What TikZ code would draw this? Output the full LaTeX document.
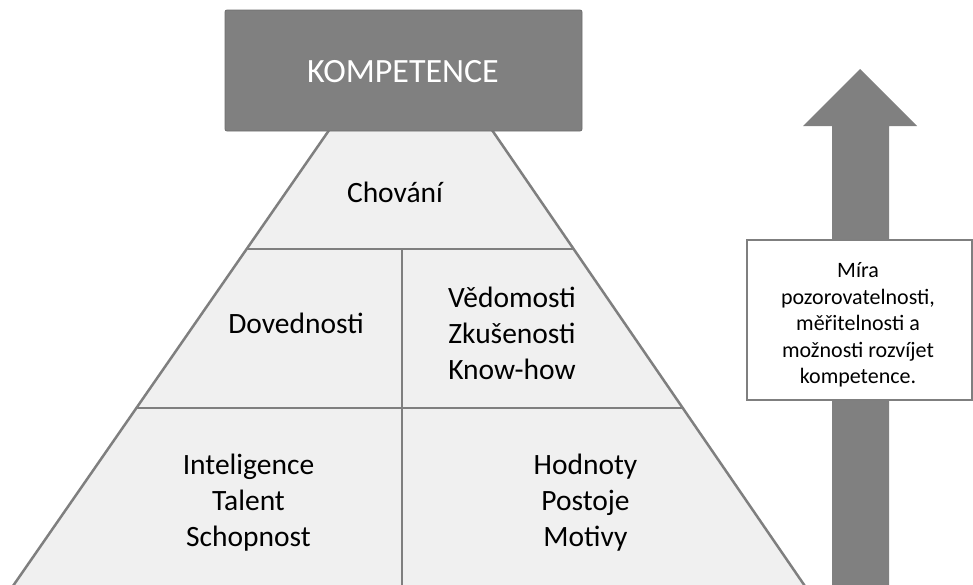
\documentclass[tikz,border=0pt]{standalone}
\usepackage{fontspec}
\setmainfont{Carlito}
\definecolor{darkbox}{HTML}{808080}
\definecolor{edgegray}{HTML}{7F7F7F}
\definecolor{pyrfill}{HTML}{F0F0F0}
\begin{document}
\begin{tikzpicture}[x=1pt,y=-1pt,
  bigtext/.style={align=center, inner sep=0pt, font=\fontsize{29.5}{36}\selectfont, text=black},
  divider/.style={draw=edgegray, line width=1.3pt},
  topbox/.style={draw=darkbox!85!black, line width=0.8pt, fill=darkbox, rounded corners=2pt,
    minimum width=357pt, minimum height=121pt, inner sep=0pt},
  toptext/.style={inner sep=0pt, text=white, font=\fontsize{34}{40}\selectfont},
  notebox/.style={draw=edgegray, line width=2.5pt, fill=white,
    minimum width=225pt, minimum height=160pt, inner sep=0pt},
  notetext/.style={align=center, inner sep=0pt, font=\fontsize{22}{26.5}\selectfont}]
\useasboundingbox (0,0) rectangle (973,584);
\begin{scope}
  \clip (0,0) rectangle (973,584);
  % pyramid
  \coordinate (apex) at (411,12);
  \coordinate (bl) at (8.8,592);
  \coordinate (br) at (809,592);
  \path[fill=pyrfill, draw=edgegray, line width=2.5pt, line join=miter] (apex) -- (bl) -- (br) -- cycle;
  % dividers
  \coordinate (h1l) at (246,249);
  \coordinate (h1r) at (574,249);
  \coordinate (h2l) at (136,408);
  \coordinate (h2r) at (684,408);
  \coordinate (vt) at (402,249);
  \coordinate (vb) at (402,592);
  \draw[divider] (h1l) -- (h1r);
  \draw[divider] (h2l) -- (h2r);
  \draw[divider] (vt) -- (vb);
  % arrow
  \fill[darkbox] (832,592) -- (832,126) -- (803,126) -- (860,69) -- (917,126) -- (889,126) -- (889,592) -- cycle;
\end{scope}
% top box
\node[topbox] (komp) at (403.5,70.5) {};
\node[toptext] (komptext) at (403,72) {KOMPETENCE};
% texts
\node[bigtext] (chov) at (395,192) {Chování};
\node[bigtext] (dov) at (296,323) {Dovednosti};
\node[bigtext] (ved) at (512,333) {Vědomosti\\Zkušenosti\\Know-how};
\node[bigtext] (int) at (248.5,503) {Inteligence\\Talent\\Schopnost};
\node[bigtext] (hod) at (585.5,503) {Hodnoty\\Postoje\\Motivy};
% note box
\node[notebox] (note) at (859.5,320) {};
\node[notetext] (notet) at (858,325) {Míra\\pozorovatelnosti,\\měřitelnosti a\\možnosti rozvíjet\\kompetence.};
\end{tikzpicture}
\end{document}
